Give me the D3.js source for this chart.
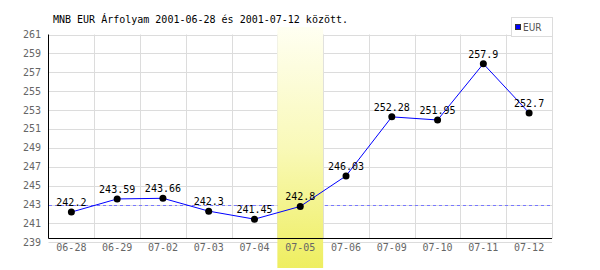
<!DOCTYPE html>
<html>
<head>
<meta charset="utf-8">
<script src="https://cdn.jsdelivr.net/npm/d3@7"></script>
<style>
  body { margin: 0; background: #fff; }
</style>
</head>
<body>
<div id="chart"></div>
<script>
const dates = ['06-28', '06-29', '07-02', '07-03', '07-04', '07-05', '07-06', '07-09', '07-10', '07-11', '07-12'];
const rates = [242.2, 243.59, 243.66, 242.3, 241.45, 242.8, 246.03, 252.28, 251.95, 257.9, 252.7];
const yTicks = [239, 241, 243, 245, 247, 249, 251, 253, 255, 257, 259, 261];
const highlight = '07-05';
const title = 'MNB EUR Árfolyam 2001-06-28 és 2001-07-12 között.';
const seriesName = 'EUR';

(function drawChart() {
  const width = 600, height = 270;
  const plotLeft = 48.5, plotRight = 552, plotTop = 34.5, axisY = 238.5;

  const svg = d3.select('#chart')
    .append('svg')
    .attr('width', width)
    .attr('height', height);

  const x = d3.scaleBand()
    .domain(dates)
    .range([plotLeft, plotRight]);

  const y = d3.scaleLinear()
    .domain([239, 261])
    .range([242.3, plotTop]);

  const grad = svg.append('defs')
    .append('linearGradient')
    .attr('id', 'hl')
    .attr('x1', 0).attr('x2', 0)
    .attr('y1', 0).attr('y2', 1);
  grad.append('stop').attr('offset', '0%').attr('stop-color', '#fffff2');
  grad.append('stop').attr('offset', '50%').attr('stop-color', '#f9f9b8');
  grad.append('stop').attr('offset', '100%').attr('stop-color', '#eeee60');

  // grid
  svg.append('g')
    .selectAll('line')
    .data(yTicks)
    .enter()
    .append('line')
    .attr('x1', plotLeft).attr('x2', plotRight)
    .attr('y1', d => Math.round(y(d)) + 0.5)
    .attr('y2', d => Math.round(y(d)) + 0.5)
    .attr('stroke', '#dcdcdc');

  svg.append('g')
    .selectAll('line')
    .data(dates)
    .enter()
    .append('line')
    .attr('x1', d => Math.round(x(d) + x.bandwidth()) + 0.5)
    .attr('x2', d => Math.round(x(d) + x.bandwidth()) + 0.5)
    .attr('y1', plotTop).attr('y2', axisY)
    .attr('stroke', '#dcdcdc');

  // reference line at highlighted day
  const refValue = rates[dates.indexOf(highlight)];
  svg.append('line')
    .attr('x1', plotLeft).attr('x2', plotRight)
    .attr('y1', Math.round(y(refValue)) - 0.5)
    .attr('y2', Math.round(y(refValue)) - 0.5)
    .attr('stroke', '#7878ff')
    .attr('shape-rendering', 'crispEdges')
    .attr('stroke-dasharray', '3,3');

  // highlighted band
  svg.append('rect')
    .attr('x', x(highlight))
    .attr('y', 27)
    .attr('width', x.bandwidth())
    .attr('height', 241)
    .attr('fill', 'url(#hl)');

  // axes
  svg.append('line')
    .attr('x1', plotLeft).attr('x2', plotLeft)
    .attr('y1', plotTop).attr('y2', axisY)
    .attr('stroke', '#000');
  svg.append('line')
    .attr('x1', plotLeft).attr('x2', plotRight)
    .attr('y1', axisY).attr('y2', axisY)
    .attr('stroke', '#000');

  svg.append('g')
    .selectAll('text')
    .data(yTicks)
    .enter()
    .append('text')
    .attr('x', 41)
    .attr('y', d => y(d))
    .attr('dy', '0.35em')
    .attr('text-anchor', 'end')
    .attr('font-family', 'DejaVu Sans Mono')
    .attr('font-size', '10px')
    .attr('fill', '#666')
    .text(d => d);

  svg.append('g')
    .selectAll('text')
    .data(dates)
    .enter()
    .append('text')
    .attr('x', d => x(d) + x.bandwidth() / 2)
    .attr('y', 251)
    .attr('text-anchor', 'middle')
    .attr('font-family', 'DejaVu Sans Mono')
    .attr('font-size', '10px')
    .attr('fill', '#666')
    .text(d => d);

  // series
  const line = d3.line()
    .x((d, i) => x(dates[i]) + x.bandwidth() / 2)
    .y(d => y(d));

  svg.append('path')
    .datum(rates)
    .attr('d', line)
    .attr('fill', 'none')
    .attr('stroke', '#0000ff')
    .attr('stroke-width', 1);

  svg.append('g')
    .selectAll('circle')
    .data(rates)
    .enter()
    .append('circle')
    .attr('cx', (d, i) => x(dates[i]) + x.bandwidth() / 2)
    .attr('cy', d => y(d))
    .attr('r', 3.5)
    .attr('fill', '#000');

  svg.append('g')
    .selectAll('text')
    .data(rates)
    .enter()
    .append('text')
    .attr('x', (d, i) => x(dates[i]) + x.bandwidth() / 2)
    .attr('y', d => y(d) - 6)
    .attr('text-anchor', 'middle')
    .attr('font-family', 'DejaVu Sans Mono')
    .attr('font-size', '10px')
    .attr('fill', '#000')
    .text(d => d);

  // title
  svg.append('text')
    .attr('x', 53)
    .attr('y', 23)
    .attr('font-family', 'DejaVu Sans Mono')
    .attr('font-size', '10px')
    .attr('fill', '#000')
    .text(title);

  // legend
  const legend = svg.append('g');
  legend.append('rect')
    .attr('x', 511.5).attr('y', 17.5)
    .attr('width', 41).attr('height', 19)
    .attr('fill', '#fff')
    .attr('stroke', '#dcdcdc');
  legend.append('rect')
    .attr('x', 515.5).attr('y', 24.5)
    .attr('width', 5).attr('height', 5)
    .attr('fill', '#0000ff')
    .attr('stroke', '#333');
  legend.append('text')
    .attr('x', 523)
    .attr('y', 30.5)
    .attr('font-family', 'Liberation Sans Narrow, DejaVu Sans Condensed, sans-serif')
    .attr('font-size', '10px')
    .attr('fill', '#555')
    .text(seriesName);
})();
</script>
</body>
</html>
